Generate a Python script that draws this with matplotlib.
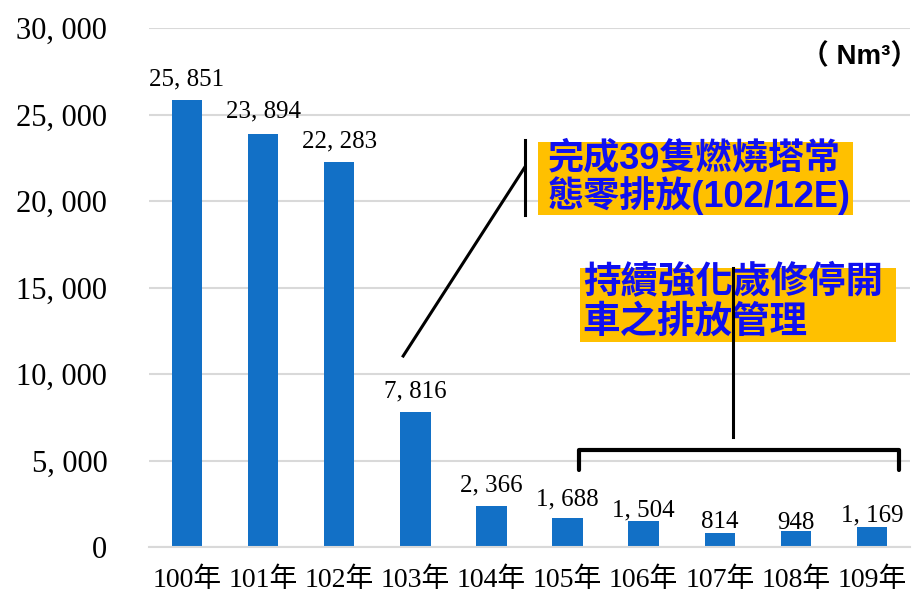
import matplotlib
matplotlib.use('Agg')
import matplotlib.pyplot as plt
import numpy as np
from matplotlib.patches import Rectangle

# ---- data ----
years = ['100年', '101年', '102年', '103年', '104年', '105年', '106年', '107年', '108年', '109年']
values = [25851, 23894, 22283, 7816, 2366, 1688, 1504, 814, 948, 1169]
y_ticks = [0, 5000, 10000, 15000, 20000, 25000, 30000]
note1_lines = ['完成39隻燃燒塔常', '態零排放(102/12E)']
note2_lines = ['持續強化歲修停開', '車之排放管理']
unit_label = '（ Nm³）'

# ---- styles ----
label_gaps_px = [14, 16, 14, 14, 15, 12, 5, 5, 2, 5]
serif_fam = ['Liberation Serif', 'Noto Sans CJK TC']
sans_fam = ['Liberation Sans', 'Noto Sans CJK TC']
bar_color = '#1270C6'
box_color = '#FFC000'
note_color = '#1010F0'
grid_color = '#d9d9d9'

def fmt(v):
    return f'{v:,}'.replace(',', ', ')

fig = plt.figure(figsize=(9.21, 5.95), dpi=100)
ax = fig.add_axes([149 / 921, 1 - 547 / 595, (910 - 149) / 921, (547 - 28) / 595])

x = np.arange(len(years))
ax.bar(x, values, width=0.4, color=bar_color, zorder=2)
ax.set_xlim(-0.5, 9.5)
ax.set_ylim(0, 30000)

ax.set_yticks(y_ticks)
ax.set_yticklabels([fmt(v) for v in y_ticks], fontfamily=serif_fam, fontsize=22)
ax.set_xticks(x)
ax.set_xticklabels(years, fontfamily=serif_fam, fontsize=20)
ax.tick_params(axis='y', length=0, pad=30)
ax.tick_params(axis='x', length=0, pad=15)
ax.grid(axis='y', color=grid_color, lw=1.5, zorder=0)
ax.set_axisbelow(True)
for s in ['left', 'right', 'top']:
    ax.spines[s].set_visible(False)
ax.spines['bottom'].set_color(grid_color)
ax.spines['bottom'].set_linewidth(1.5)

for i, v in enumerate(values):
    ax.annotate(fmt(v), xy=(i, v), xytext=(0, label_gaps_px[i] * 0.72),
                textcoords='offset points', ha='center', va='baseline',
                fontfamily=serif_fam, fontsize=18, color='black', zorder=4)

# ---- annotation 1 ----
ax.add_patch(Rectangle((4.61, 19190), 8.75 - 4.61, 23410 - 19190,
                       facecolor=box_color, edgecolor='none', zorder=3, clip_on=False))
ax.plot([4.44, 4.44], [19190, 23525], color='black', lw=2.2, zorder=5, clip_on=False)
ax.plot([2.84, 4.44], [11040, 21965], color='black', lw=2.2, zorder=5, clip_on=False)
ax.text(4.74, 22420, note1_lines[0], ha='left', va='center', fontfamily=sans_fam,
        fontweight='bold', fontsize=26, color=note_color, zorder=6)
ax.text(4.74, 20300, note1_lines[1], ha='left', va='center', fontfamily=sans_fam,
        fontweight='bold', fontsize=26, color=note_color, zorder=6)

# ---- annotation 2 ----
ax.add_patch(Rectangle((5.16, 11850), 9.32 - 5.16, 16130 - 11850,
                       facecolor=box_color, edgecolor='none', zorder=3, clip_on=False))
ax.text(5.20, 15230, note2_lines[0], ha='left', va='center', fontfamily=sans_fam,
        fontweight='bold', fontsize=27, color=note_color, zorder=6)
ax.text(5.20, 12980, note2_lines[1], ha='left', va='center', fontfamily=sans_fam,
        fontweight='bold', fontsize=27, color=note_color, zorder=6)
ax.plot([7.175, 7.175], [6360, 16130], color='black', lw=2.2, zorder=7, clip_on=False)

# bracket
ax.plot([5.15, 5.15, 9.36, 9.36], [4450, 5610, 5610, 4450], color='black', lw=3,
        solid_joinstyle='round', solid_capstyle='round', zorder=5, clip_on=False)

# unit label
fig.text(918 / 921, 1 - 57 / 595, unit_label, ha='right', va='center',
         fontfamily=sans_fam, fontweight='bold', fontsize=20, color='black')

fig.savefig('out.png', dpi=100)
